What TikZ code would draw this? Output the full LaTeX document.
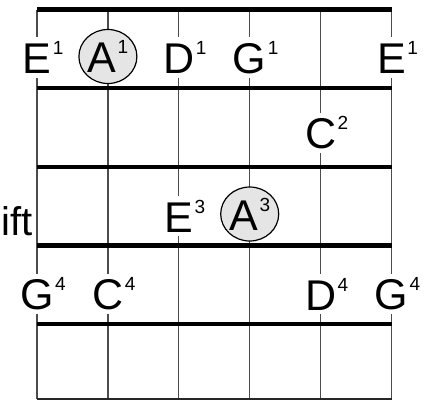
\documentclass[tikz,border=0pt]{standalone}
\usepackage{fontspec}
\setmainfont{Liberation Sans}
\usetikzlibrary{shapes.geometric}

\newcommand{\fretsup}[1]{\raisebox{19pt}{\fontsize{19}{19}\selectfont #1}}
\tikzset{
  notebox/.style={fill=white,inner xsep=2pt,inner ysep=3pt,font=\fontsize{43}{43}\selectfont},
  rootbox/.style={ellipse,draw=black,line width=1.2pt,fill=black!10,
    minimum width=58pt,minimum height=54pt,inner sep=0pt,font=\fontsize{43}{43}\selectfont}
}

\begin{document}
\begin{tikzpicture}[x=1pt,y=-1pt]
  \clip (0,0) rectangle (427,400);
  \useasboundingbox (0,0) rectangle (427,400);
  % strings
  \foreach \s in {0,...,5}
    \draw[line width=1.3pt,black!70] ({37+70.9*\s},9.5) -- ({37+70.9*\s},399);
  % frets
  \foreach \y in {9.5,88,167,245.5,324}
    \draw[line width=4.5pt] (37,\y) -- (391.5,\y);
  \draw[line width=1.8pt,black!85] (37,399) -- (391.5,399);
  % notes
  \foreach \s/\y/\n/\d in {0/57.5/E/1,2/57.5/D/1,3/57.5/G/1,5/57.5/E/1,
                           4/133/C/2,2/216/E/3,
                           0/294/G/4,1/294/C/4,4/294/D/4,5/294/G/4}
    \node[notebox,inner ysep=4pt] (note-\s-\d) at ({37+70.9*\s},\y) {\n\rlap{\hspace{1.5pt}\fretsup{\d}}};
  \node[rootbox] (root-1) at (107.9,56.5) {A\hspace{1.5pt}\fretsup{1}};
  \node[rootbox] (root-3) at (249.7,214) {A\hspace{1.5pt}\fretsup{3}};
  \node[anchor=base east,inner sep=0pt,font=\fontsize{40}{40}\selectfont] (shift) at (33,235) {Shift};
\end{tikzpicture}
\end{document}
